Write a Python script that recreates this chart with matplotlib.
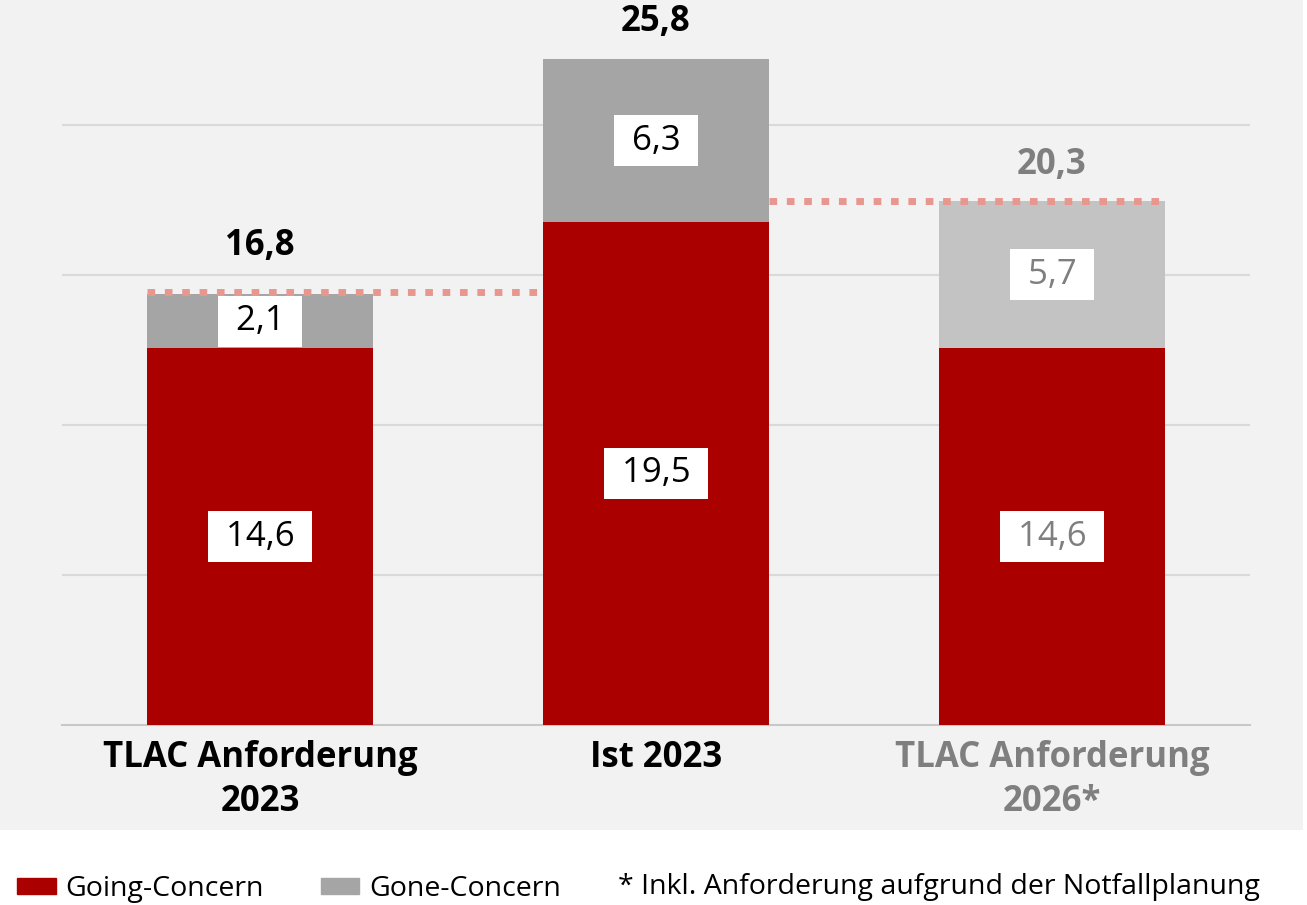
import matplotlib.pyplot as plt
from matplotlib.patches import Rectangle, Patch

categories = ["TLAC Anforderung\n2023", "Ist 2023", "TLAC Anforderung\n2026*"]
going = [14.6, 19.5, 14.6]
gone = [2.1, 6.3, 5.7]
totals = [16.8, 25.8, 20.3]
going_labels = ["14,6", "19,5", "14,6"]
gone_labels = ["2,1", "6,3", "5,7"]
total_labels = ["16,8", "25,8", "20,3"]

RED = "#AB0000"
GREY = "#A5A5A5"
LIGHTGREY = "#C3C3C3"
TXTGREY = "#7F7F7F"
DOT = "#E8978F"

plt.rcParams['font.family'] = ['Open Sans', 'DejaVu Sans']

W, H = 1307, 905
fig = plt.figure(figsize=(W / 100, H / 100), dpi=100)
fig.patch.set_facecolor("white")
# grey panel behind chart
fig.patches.append(Rectangle((0, 1 - 830 / H), 1303 / W, 830 / H,
                             transform=fig.transFigure, facecolor="#F2F2F2",
                             edgecolor="none", zorder=-10))

ax = fig.add_axes([62 / W, 1 - 725 / H, (1250 - 62) / W, 725 / H])
ax.patch.set_visible(False)

x = list(range(len(categories)))
width = 0.57
gone_colors = [GREY, GREY, LIGHTGREY]
txt_colors = ["black", "black", TXTGREY]

ax.bar(x, going, width, color=RED, zorder=3)
ax.bar(x, gone, width, bottom=going, color=gone_colors, zorder=3)

for i in x:
    box = dict(boxstyle="square,pad=0.25", facecolor="white", edgecolor="none")
    ax.text(i, going[i] / 2, " " + going_labels[i] + " ", ha="center", va="center",
            fontsize=25, color=txt_colors[i], bbox=box, zorder=5)
    ax.text(i, going[i] + gone[i] / 2, " " + gone_labels[i] + " ", ha="center",
            va="center", fontsize=25, color=txt_colors[i], bbox=box, zorder=5)

offsets = [33, 27, 26]
for i in x:
    ax.annotate(total_labels[i], (i, totals[i]), xytext=(0, offsets[i]),
                textcoords="offset points", ha="center", va="center",
                fontsize=25, fontweight="bold", color=txt_colors[i], zorder=5)

# dotted reference lines
ax.hlines(totals[0], x[0] - width / 2, x[1] - width / 2, colors=DOT,
          linewidth=5, linestyles=(0, (1.1, 1.4)), zorder=4)
ax.hlines(totals[2], x[1] + width / 2, x[2] + width / 2, colors=DOT,
          linewidth=5, linestyles=(0, (1.1, 1.4)), zorder=4)

ax.set_xlim(-0.5, 2.5)
ax.set_ylim(0, 725 / 25.8)
step = 150 / 25.8
ax.set_yticks([step * k for k in range(1, 5)])
ax.yaxis.grid(True, color="#D9D9D9", linewidth=1.5, zorder=0)
ax.set_axisbelow(True)
ax.tick_params(axis="y", left=False, labelleft=False)
for s in ["top", "right", "left"]:
    ax.spines[s].set_visible(False)
ax.spines["bottom"].set_color("#C8C8C8")
ax.spines["bottom"].set_linewidth(1.5)

ax.set_xticks(x)
ax.set_xticklabels(categories, fontsize=25, fontweight="bold", linespacing=1.27)
ax.tick_params(axis="x", length=0, pad=11)
for lbl, c in zip(ax.get_xticklabels(), txt_colors):
    lbl.set_color(c)

handles = [Patch(color=RED), Patch(color=GREY)]
fig.legend(handles, ["Going-Concern", "Gone-Concern"], loc="center left",
           bbox_to_anchor=(0.0, 1 - 889 / H), ncol=2, frameon=False,
           fontsize=20.5, handlelength=1.35, handleheight=0.45,
           handletextpad=0.35, columnspacing=2.0, borderaxespad=0.2)
fig.text(618 / W, 1 - 887 / H, "* Inkl. Anforderung aufgrund der Notfallplanung",
         fontsize=20.5, va="center", ha="left")

fig.savefig("out.png", dpi=100)
